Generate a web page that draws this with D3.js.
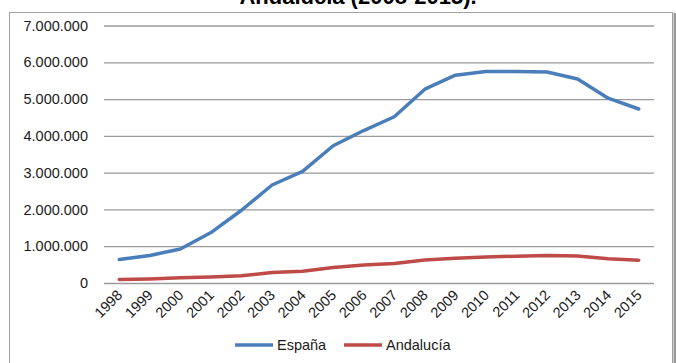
<!DOCTYPE html>
<html>
<head>
<meta charset="utf-8">
<script src="https://cdn.jsdelivr.net/npm/d3@7"></script>
<style>
  html, body { margin: 0; padding: 0; background: #fff; }
  svg { display: block; font-family: "Liberation Sans", Arial, sans-serif; }
</style>
</head>
<body>
<svg id="chart" width="676" height="363"></svg>
<script>
// Población extranjera empadronada, España y Andalucía
const years = ["1998","1999","2000","2001","2002","2003","2004","2005","2006",
               "2007","2008","2009","2010","2011","2012","2013","2014","2015"];
const espana = [637085, 748954, 923879, 1370657, 1977946, 2664168, 3034326, 3730610, 4144166,
                4519554, 5268762, 5648671, 5747734, 5751487, 5736258, 5546238, 5023487, 4729644];
const andalucia = [98000, 110000, 140000, 164000, 198000, 283000, 322000, 420000, 489000,
                   532000, 623000, 675000, 704000, 730000, 747000, 733000, 657000, 618000];
const yTicks = [0, 1000000, 2000000, 3000000, 4000000, 5000000, 6000000, 7000000];
const seriesNames = ["España", "Andalucía"];
const seriesColors = ["#4a7ebb", "#be4b48"];
const titleText = "Andalucía (2008-2015).";

const svg = d3.select("#chart");

// outer chart frame with a soft right shadow
svg.append("rect").attr("x", 673.5).attr("y", 13).attr("width", 2.5).attr("height", 360)
  .attr("fill", "#9a9a9a");
svg.append("rect").attr("x", 9.5).attr("y", 12.5).attr("width", 663).attr("height", 400)
  .attr("fill", "#fff").attr("stroke", "#a0a0a0").attr("stroke-width", 1);

// title (second line, sits above the frame)
svg.append("text").attr("x", 358).attr("y", 4)
  .attr("text-anchor", "middle").attr("font-weight", "bold").attr("font-size", 22)
  .attr("fill", "#000").text(titleText);

const x = d3.scaleBand().domain(years).range([104, 654]);
const y = d3.scaleLinear().domain([0, 7000000]).range([283, 25.5]);

const fmt = v => d3.format(",")(v).replace(/,/g, ".");

// horizontal gridlines
const yAxis = d3.axisLeft(y).tickValues(yTicks).tickSize(-(654 - 104)).tickPadding(16).tickFormat(fmt);
const gy = svg.append("g").attr("transform", "translate(104,0)").call(yAxis);
gy.select(".domain").remove();
gy.selectAll(".tick line").attr("stroke", "#9a9a9a").attr("stroke-width", 1.3);
gy.selectAll(".tick text").attr("font-size", 14.5).attr("fill", "#1a1a1a")
  .attr("font-family", "Liberation Sans, Arial, sans-serif");

// category axis labels, rotated
const xAxis = d3.axisBottom(x).tickSize(0).tickPadding(0);
const gx = svg.append("g").attr("transform", "translate(0,283)").call(xAxis);
gx.select(".domain").remove();
gx.selectAll(".tick text")
  .attr("font-size", 14.5).attr("fill", "#1a1a1a")
  .attr("font-family", "Liberation Sans, Arial, sans-serif")
  .attr("text-anchor", "end")
  .attr("dy", null)
  .attr("y", 0)
  .attr("transform", "translate(4,13) rotate(-45)");

// series lines
const line = d3.line().x((d, i) => x(years[i]) + x.bandwidth() / 2).y(d => y(d));
[espana, andalucia].forEach((s, k) => {
  svg.append("path").datum(s).attr("d", line)
    .attr("fill", "none").attr("stroke", seriesColors[k])
    .attr("stroke-width", 3.5).attr("stroke-linejoin", "round").attr("stroke-linecap", "round");
});

// legend
const legendX = [235, 344];
seriesNames.forEach((name, k) => {
  const g = svg.append("g").attr("transform", `translate(${legendX[k]},345)`);
  g.append("line").attr("x1", 0).attr("x2", 38).attr("y1", 0).attr("y2", 0)
    .attr("stroke", seriesColors[k]).attr("stroke-width", 3.5);
  g.append("text").attr("x", 42).attr("y", 0).attr("dy", "0.35em")
    .attr("font-size", 14.5).attr("fill", "#1a1a1a").text(name);
});
</script>
</body>
</html>
